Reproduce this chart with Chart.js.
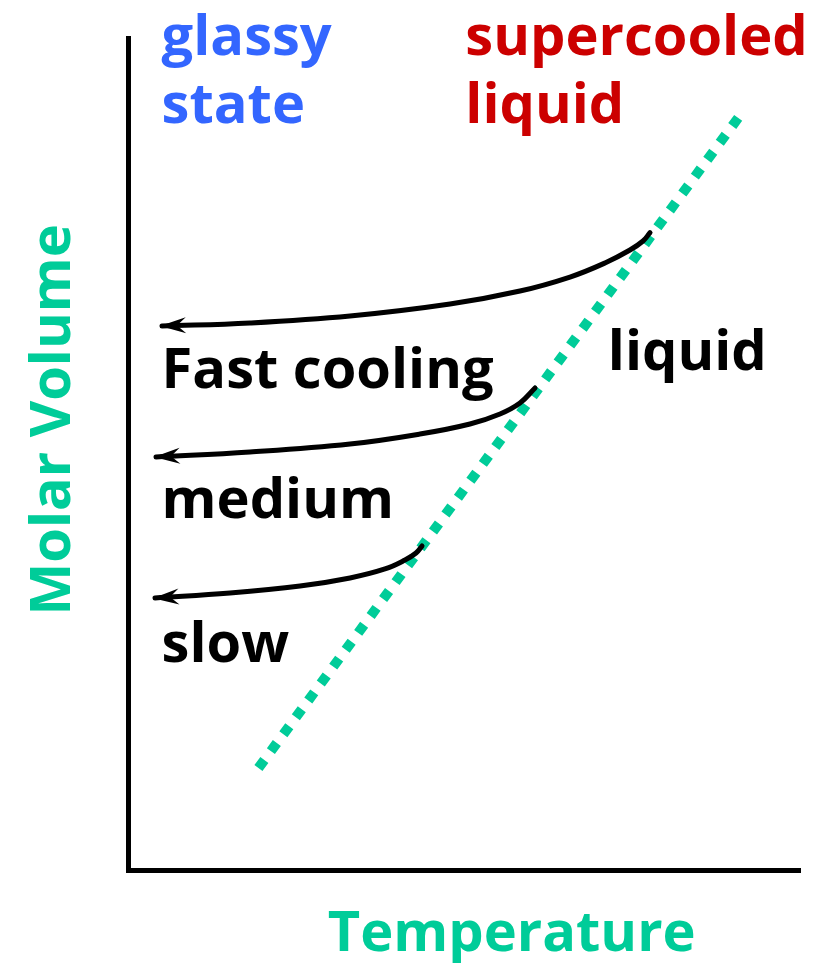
<!DOCTYPE html>
<html>
<head>
<meta charset="utf-8">
<script src="https://cdn.jsdelivr.net/npm/chart.js@4"></script>
<style>
  html, body { margin: 0; padding: 0; background: #fff; }
  #wrap { width: 814px; height: 963px; position: relative; }
</style>
</head>
<body>
<div id="wrap"><canvas id="glass-chart"></canvas></div>
<script>
// temperature / molar volume in arbitrary units (0..100 on both axes)
const liquidX = [90.8, 18.9];
const liquidY = [90.4, 11.7];

const fastX = [5.06, 18.15, 33.04, 47.92, 58.33, 65.77, 70.98, 74.70, 76.64, 77.68];
const fastY = [65.38, 65.75, 66.59, 68.03, 69.59, 71.27, 72.96, 74.52, 75.60, 76.60];

const mediumX = [4.17, 18.15, 33.04, 43.45, 50.89, 55.36, 58.33, 60.57];
const mediumY = [49.64, 50.24, 51.20, 52.40, 53.61, 54.81, 56.13, 57.93];

const slowX = [4.02, 15.18, 25.60, 33.04, 38.24, 41.22, 42.86, 43.75];
const slowY = [32.69, 33.29, 34.13, 35.10, 36.18, 37.26, 38.10, 38.94];

const axisTitles = ['Temperature', 'Molar Volume'];
const labelTexts = ['glassy', 'state', 'supercooled', 'liquid', 'liquid', 'Fast cooling', 'medium', 'slow'];

const GREEN = '#00CC99';
const BLUE = '#3366FF';
const RED = '#CC0000';
const FONT = 'bold 56px "Open Sans", "Noto Sans", sans-serif';

function toPoints(xs, ys) {
    return xs.map((x, i) => ({ x: x, y: ys[i] }));
}

// label anchors in data units (left edge, baseline)
const labelPlaces = [
    { x: 5.0, y: 98.0, color: BLUE },
    { x: 5.0, y: 89.8, color: BLUE },
    { x: 50.2, y: 98.0, color: RED },
    { x: 50.2, y: 89.8, color: RED },
    { x: 71.4, y: 60.1, color: '#000' },
    { x: 5.0, y: 57.9, color: '#000' },
    { x: 5.0, y: 42.3, color: '#000' },
    { x: 5.0, y: 25.0, color: '#000' }
];

const textPlugin = {
    id: 'texts',
    afterDraw(chart) {
        const ctx = chart.ctx;
        const xs = chart.scales.x;
        const ys = chart.scales.y;
        ctx.save();
        ctx.font = FONT;
        ctx.textBaseline = 'alphabetic';
        ctx.textAlign = 'left';
        labelTexts.forEach((t, i) => {
            const p = labelPlaces[i];
            ctx.fillStyle = p.color;
            ctx.fillText(t, xs.getPixelForValue(p.x), ys.getPixelForValue(p.y));
        });

        // axis titles
        ctx.fillStyle = GREEN;
        ctx.textAlign = 'center';
        ctx.fillText(axisTitles[0], xs.getPixelForValue(57.1), 951);
        ctx.translate(70, ys.getPixelForValue(54.1));
        ctx.rotate(-Math.PI / 2);
        ctx.fillText(axisTitles[1], 0, 0);
        ctx.restore();
    }
};

// arrow head at the cold end of each cooling curve
const arrowPlugin = {
    id: 'arrows',
    afterDatasetsDraw(chart) {
        const ctx = chart.ctx;
        chart.data.datasets.forEach((ds, i) => {
            if (!ds.arrow) return;
            const pts = chart.getDatasetMeta(i).data;
            const tip = pts[0];
            const nxt = pts[1];
            const ang = Math.atan2(nxt.y - tip.y, nxt.x - tip.x);
            ctx.save();
            ctx.translate(tip.x, tip.y);
            ctx.rotate(ang);
            ctx.fillStyle = '#000';
            ctx.beginPath();
            ctx.moveTo(-2, 0);
            ctx.lineTo(24, -8);
            ctx.lineTo(15, 0);
            ctx.lineTo(24, 8);
            ctx.closePath();
            ctx.fill();
            ctx.restore();
        });
    }
};

const curveStyle = {
    borderColor: '#000',
    borderWidth: 5,
    borderCapStyle: 'round',
    borderJoinStyle: 'round',
    pointRadius: 0,
    tension: 0.4,
    fill: false,
    arrow: true
};

new Chart(document.querySelector('#glass-chart').getContext('2d'), {
    type: 'line',
    data: {
        datasets: [
            Object.assign({ label: 'fast', data: toPoints(fastX, fastY) }, curveStyle),
            Object.assign({ label: 'medium', data: toPoints(mediumX, mediumY) }, curveStyle),
            Object.assign({ label: 'slow', data: toPoints(slowX, slowY) }, curveStyle),
            {
                label: 'liquid',
                data: toPoints(liquidX, liquidY),
                borderColor: GREEN,
                borderWidth: 10,
                borderDash: [10, 11],
                borderCapStyle: 'butt',
                pointRadius: 0,
                tension: 0,
                fill: false
            }
        ]
    },
    options: {
        responsive: true,
        maintainAspectRatio: false,
        animation: false,
        layout: { padding: { left: 128, right: 14, top: 38, bottom: 93 } },
        plugins: {
            legend: { display: false },
            tooltip: { enabled: false }
        },
        scales: {
            x: {
                type: 'linear',
                min: 0,
                max: 100,
                grid: { display: false, drawTicks: false },
                ticks: { display: false },
                border: { display: true, color: '#000', width: 5 }
            },
            y: {
                type: 'linear',
                min: 0,
                max: 100,
                grid: { display: false, drawTicks: false },
                ticks: { display: false },
                border: { display: true, color: '#000', width: 5 }
            }
        }
    },
    plugins: [arrowPlugin, textPlugin]
});
</script>
</body>
</html>
